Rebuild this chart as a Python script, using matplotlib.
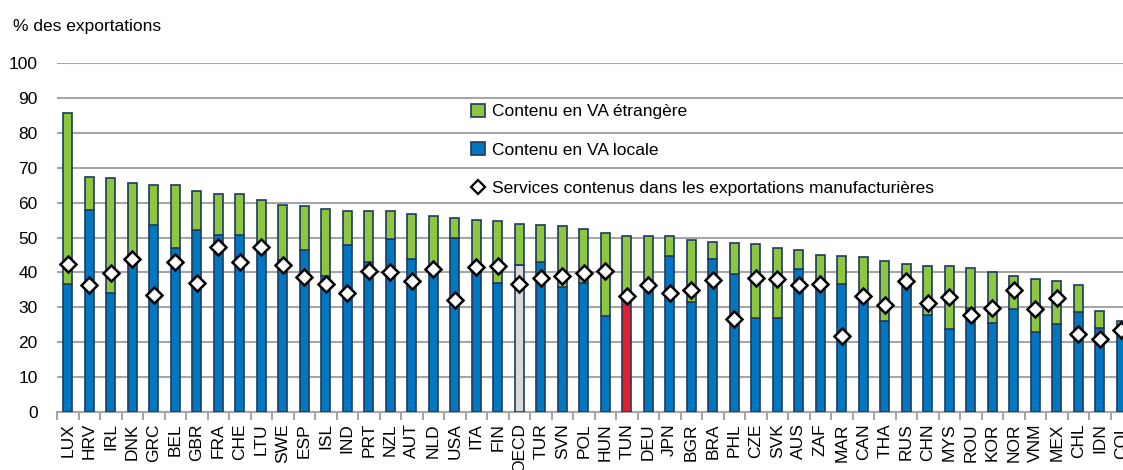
import numpy as np
import matplotlib
matplotlib.use('Agg')
import matplotlib.pyplot as plt
from matplotlib.lines import Line2D
from matplotlib.patches import Patch

plt.rcParams['font.family'] = ['Liberation Sans', 'DejaVu Sans']

countries = ['LUX', 'HRV', 'IRL', 'DNK', 'GRC', 'BEL', 'GBR', 'FRA', 'CHE', 'LTU',
             'SWE', 'ESP', 'ISL', 'IND', 'PRT', 'NZL', 'AUT', 'NLD', 'USA', 'ITA',
             'FIN', 'OECD', 'TUR', 'SVN', 'POL', 'HUN', 'TUN', 'DEU', 'JPN', 'BGR',
             'BRA', 'PHL', 'CZE', 'SVK', 'AUS', 'ZAF', 'MAR', 'CAN', 'THA', 'RUS',
             'CHN', 'MYS', 'ROU', 'KOR', 'NOR', 'VNM', 'MEX', 'CHL', 'IDN', 'COL']
local_va = [36.7, 58.0, 34.1, 44.5, 53.6, 47.0, 52.1, 50.8, 50.7, 48.0,
            43.5, 46.5, 38.9, 47.8, 43.1, 49.6, 43.8, 41.0, 49.8, 41.5,
            37.0, 42.1, 42.9, 35.9, 37.0, 27.6, 32.5, 36.0, 44.8, 31.5,
            43.9, 39.4, 26.8, 27.0, 40.9, 37.5, 36.7, 34.0, 26.1, 38.5,
            27.7, 23.8, 29.7, 25.4, 29.5, 23.0, 25.1, 28.7, 24.1, 22.5]
foreign_va = [49.1, 9.4, 33.0, 21.0, 11.4, 17.9, 11.2, 11.7, 11.7, 12.7,
              15.7, 12.5, 19.3, 9.9, 14.6, 8.0, 13.0, 15.3, 5.8, 13.5,
              17.6, 11.9, 10.8, 17.5, 15.3, 23.7, 17.9, 14.4, 5.6, 17.8,
              4.7, 8.9, 21.2, 19.9, 5.6, 7.5, 8.0, 10.4, 17.1, 3.9,
              14.1, 17.9, 11.5, 14.7, 9.6, 15.1, 12.5, 7.8, 4.8, 3.6]
services = [42.4, 36.3, 39.7, 43.9, 33.4, 43.0, 37.1, 47.2, 43.0, 47.2,
            42.0, 38.6, 36.7, 34.2, 40.3, 40.2, 37.5, 40.9, 32.2, 41.6,
            41.8, 36.8, 38.3, 39.1, 39.9, 40.5, 33.3, 36.4, 34.0, 34.9,
            37.8, 26.7, 38.5, 38.0, 36.4, 36.7, 21.7, 33.1, 30.6, 37.5,
            31.2, 33.0, 27.8, 29.8, 34.9, 29.5, 32.7, 22.4, 20.8, 23.4]

blue = '#0077BE'
green = '#8DC63F'
edge = '#1F3A60'
local_colors = ['#D9D9D9' if c == 'OECD' else '#E2202C' if c == 'TUN' else blue
                for c in countries]

fig = plt.figure(figsize=(11.23, 4.70), dpi=100)
ax = fig.add_axes([57 / 1123, 1 - 412 / 470, 1075 / 1123, 349 / 470])

x = np.arange(len(countries))
w = 0.44
ax.bar(x, local_va, w, color=local_colors, edgecolor=edge, linewidth=1.2, zorder=3)
ax.bar(x, foreign_va, w, bottom=local_va, color=green, edgecolor=edge,
       linewidth=1.2, zorder=3)
ax.plot(x, services, linestyle='none', marker='D', markersize=8.5,
        markerfacecolor='white', markeredgecolor='black', markeredgewidth=1.8,
        zorder=4)

ax.set_xlim(-0.5, len(countries) - 0.5)
ax.set_ylim(0, 100)
ax.set_yticks(range(0, 101, 10))
ax.yaxis.grid(True, color='#A6A6A6', linewidth=1.5)
ax.set_axisbelow(True)
for s in ['top', 'right', 'left']:
    ax.spines[s].set_visible(False)
ax.spines['bottom'].set_color('#A6A6A6')
ax.spines['bottom'].set_linewidth(1.5)
ax.tick_params(axis='y', length=0, labelsize=12.5, pad=14)
ax.set_xticks(x)
ax.set_xticklabels(countries, rotation=90, fontsize=12.5)
ax.tick_params(axis='x', which='major', length=0, pad=8)
ax.set_xticks(np.arange(-0.5, len(countries), 1), minor=True)
ax.tick_params(axis='x', which='minor', length=6, width=1.5, color='#A6A6A6')

fig.text(13 / 1123, 1 - 27 / 470, '% des exportations', fontsize=12.5, va='center')

handles = [Patch(facecolor=green, edgecolor=edge, linewidth=1.2),
           Patch(facecolor=blue, edgecolor=edge, linewidth=1.2),
           Line2D([], [], linestyle='none', marker='D', markersize=7,
                  markerfacecolor='white', markeredgecolor='black',
                  markeredgewidth=1.6)]
labels = ['Contenu en VA étrangère', 'Contenu en VA locale',
          'Services contenus dans les exportations manufacturières']
fig.legend(handles, labels, loc='upper left',
           bbox_to_anchor=(462 / 1123, 1 - 95 / 470), frameon=False,
           fontsize=12.5, labelspacing=1.3, handlelength=0.8, handleheight=0.8,
           handletextpad=0.4, borderpad=0)

fig.savefig('out.png', dpi=100)
